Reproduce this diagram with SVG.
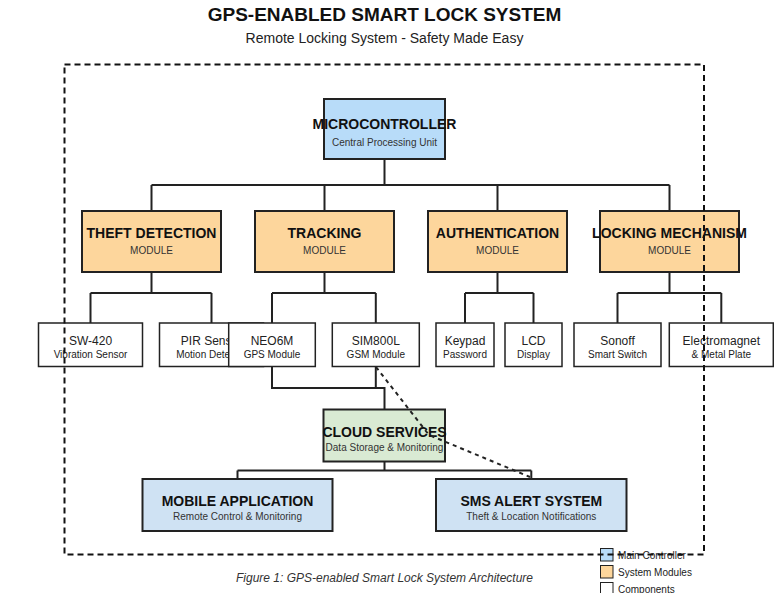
<svg xmlns="http://www.w3.org/2000/svg" width="774" height="593" viewBox="0 0 774 593">
<style>
text{font-family:"Liberation Sans",Arial,sans-serif;text-anchor:middle;fill:#111}
.t1{font-size:19px;font-weight:bold}
.t2{font-size:14px;fill:#222}
.nt{font-size:14px;font-weight:bold}
.ns{font-size:10px;fill:#333}
.cn{font-size:12px;fill:#222}
.cs{font-size:10px;fill:#222}
.lg{font-size:10px;fill:#222;text-anchor:start}
.cap{font-size:12px;font-style:italic;fill:#333}
.main{fill:#b8dcf9;stroke:#222;stroke-width:2}
.mod{fill:#fdd69c;stroke:#222;stroke-width:2}
.cloud{fill:#d9ead3;stroke:#222;stroke-width:2}
.out{fill:#cfe2f3;stroke:#222;stroke-width:2}
.comp{fill:#fff;stroke:#222;stroke-width:1.5}
.ln{fill:none;stroke:#222;stroke-width:2}
.dl{fill:none;stroke:#222;stroke-width:2;stroke-dasharray:4,4}
.frame{fill:none;stroke:#111;stroke-width:2;stroke-dasharray:6,4}
</style>
<rect width="774" height="593" fill="#fff"/>
<text class="t1" x="384.5" y="21">GPS-ENABLED SMART LOCK SYSTEM</text>
<text class="t2" x="384.5" y="43">Remote Locking System - Safety Made Easy</text>

<g id="microcontroller"><rect class="main" x="324" y="99" width="121" height="60"/><text class="nt" x="384.5" y="129">MICROCONTROLLER</text><text class="ns" x="384.5" y="145.5">Central Processing Unit</text></g>

<g id="theft-detection"><rect class="mod" x="82" y="211" width="139" height="61"/><text class="nt" x="151.5" y="237.5">THEFT DETECTION</text><text class="ns" x="151.5" y="254">MODULE</text></g>
<g id="tracking"><rect class="mod" x="255" y="211" width="139" height="61"/><text class="nt" x="324.5" y="237.5">TRACKING</text><text class="ns" x="324.5" y="254">MODULE</text></g>
<g id="authentication"><rect class="mod" x="428" y="211" width="139" height="61"/><text class="nt" x="497.5" y="237.5">AUTHENTICATION</text><text class="ns" x="497.5" y="254">MODULE</text></g>
<g id="locking-mechanism"><rect class="mod" x="600" y="211" width="139" height="61"/><text class="nt" x="669.5" y="237.5">LOCKING MECHANISM</text><text class="ns" x="669.5" y="254">MODULE</text></g>

<g id="sw420"><rect class="comp" x="38.5" y="323" width="104" height="43.5"/><text class="cn" x="90.5" y="345">SW-420</text><text class="cs" x="90.5" y="358">Vibration Sensor</text></g>
<g id="pir"><rect class="comp" x="159.5" y="323" width="104" height="43.5"/><text class="cn" x="211.5" y="345">PIR Sensor</text><text class="cs" x="211.5" y="358">Motion Detector</text></g>
<g id="neo6m"><rect class="comp" x="228.7" y="323" width="86.6" height="43.5"/><text class="cn" x="272" y="345">NEO6M</text><text class="cs" x="272" y="358">GPS Module</text></g>
<g id="sim800l"><rect class="comp" x="332.3" y="323" width="87" height="43.5"/><text class="cn" x="375.8" y="345">SIM800L</text><text class="cs" x="375.8" y="358">GSM Module</text></g>
<g id="keypad"><rect class="comp" x="436" y="323" width="58" height="43.5"/><text class="cn" x="465" y="345">Keypad</text><text class="cs" x="465" y="358">Password</text></g>
<g id="lcd"><rect class="comp" x="505" y="323" width="57" height="43.5"/><text class="cn" x="533.5" y="345">LCD</text><text class="cs" x="533.5" y="358">Display</text></g>
<g id="sonoff"><rect class="comp" x="574" y="323" width="87" height="43.5"/><text class="cn" x="617.5" y="345">Sonoff</text><text class="cs" x="617.5" y="358">Smart Switch</text></g>
<g id="electromagnet"><rect class="comp" x="669.3" y="323" width="104" height="43.5"/><text class="cn" x="721.3" y="345">Electromagnet</text><text class="cs" x="721.3" y="358">&amp; Metal Plate</text></g>

<g id="cloud-services"><rect class="cloud" x="323.5" y="409.5" width="121.5" height="52"/><text class="nt" x="384.5" y="436.5">CLOUD SERVICES</text><text class="ns" x="384.5" y="450.5">Data Storage &amp; Monitoring</text></g>

<g id="mobile-app"><rect class="out" x="142.5" y="479" width="190" height="52"/><text class="nt" x="237.5" y="505.5">MOBILE APPLICATION</text><text class="ns" x="237.5" y="519.5">Remote Control &amp; Monitoring</text></g>
<g id="sms-alert"><rect class="out" x="436" y="479" width="190.5" height="52"/><text class="nt" x="531.3" y="505.5">SMS ALERT SYSTEM</text><text class="ns" x="531.3" y="519.5">Theft &amp; Location Notifications</text></g>

<g id="connectors">
<path class="ln" d="M384.5,159V185M151.5,185H669.5M151.5,185V211M324.5,185V211M497.5,185V211M669.5,185V211"/>
<path class="ln" d="M151.5,272V293M90.5,293H211.5M90.5,293V323M211.5,293V323"/>
<path class="ln" d="M324.5,272V293M272,293H375.8M272,293V323M375.8,293V323"/>
<path class="ln" d="M497.5,272V293M465,293H533.5M465,293V323M533.5,293V323"/>
<path class="ln" d="M669.5,272V293M617.5,293H721.3M617.5,293V323M721.3,293V323"/>
<path class="ln" d="M272,366.5V388H384.5V409.5M375.8,366.5V388"/>
<path class="ln" d="M384.5,461.5V470.5M237.5,470.5H531.3M237.5,470.5V479M531.3,470.5V479"/>
<path class="dl" d="M376,367L429,435L530,477"/>
</g>

<g id="legend">
<rect x="600.5" y="548.5" width="12.5" height="12.5" fill="#b8dcf9" stroke="#222" stroke-width="1"/>
<rect x="600.5" y="565.5" width="12.5" height="12.5" fill="#fdd69c" stroke="#222" stroke-width="1"/>
<rect x="600.5" y="582.5" width="12.5" height="12.5" fill="#fff" stroke="#222" stroke-width="1"/>
<text class="lg" x="618" y="559">Main Controller</text>
<text class="lg" x="618" y="576">System Modules</text>
<text class="lg" x="618" y="592.5">Components</text>
</g>

<rect class="frame" x="64.5" y="64.5" width="639.5" height="490"/>
<text class="cap" x="384.5" y="582">Figure 1: GPS-enabled Smart Lock System Architecture</text>
</svg>
